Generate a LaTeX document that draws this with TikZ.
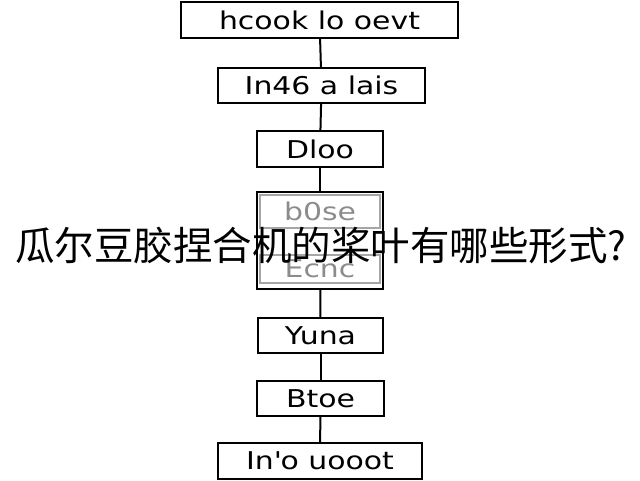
\documentclass[tikz,border=0pt]{standalone}
\usepackage{fontspec}
\setmainfont{DejaVu Sans}[FakeStretch=1.22]
\newfontfamily\cjk{Noto Sans CJK SC}
\begin{document}
\begin{tikzpicture}[x=1pt,y=-1pt,
  stepbox/.style={draw=black,line width=2pt,fill=white,inner sep=0pt,
    font=\fontsize{24.5}{28}\selectfont,text=black},
  subbox/.style={draw=black!35,line width=1.4pt,inner sep=0pt,
    font=\fontsize{24.5}{28}\selectfont,text=black!45},
  link/.style={draw=black,line width=2pt}]
\useasboundingbox (0,0) rectangle (640,480);
\fill[white] (0,0) rectangle (640,480);
\node[stepbox,minimum width=277pt,minimum height=36pt] (b1) at (319.5,20) {hcook lo oevt};
\node[stepbox,minimum width=207pt,minimum height=35pt] (b2) at (321.5,85.5) {In46 a lais};
\node[stepbox,minimum width=126pt,minimum height=36pt] (b3) at (320,149) {Dloo};
\node[stepbox,minimum width=126pt,minimum height=97pt] (b4) at (320,240.5) {};
\node[subbox,minimum width=120pt,minimum height=33pt] (b4a) at (320,211.5) {b0se};
\node[subbox,minimum width=120pt,minimum height=28pt] (b4b) at (320,269) {Ecnc};
\node[stepbox,minimum width=125pt,minimum height=35pt] (b6) at (320.5,335.5) {Yuna};
\node[stepbox,minimum width=127pt,minimum height=35pt] (b7) at (320.5,398.5) {Btoe};
\node[stepbox,minimum width=204pt,minimum height=36pt] (b8) at (320,461) {In\textquotesingle o uooot};
\draw[link] (b1) -- (b2);
\draw[link] (b2) -- (b3);
\draw[link] (b3) -- (b4);
\draw[link] (b4) -- (b6);
\draw[link] (b6) -- (b7);
\draw[link] (b7) -- (b8);
\node[font=\cjk\fontsize{39.5}{44}\selectfont,inner sep=0pt] (title) at (321,246) {瓜尔豆胶捏合机的桨叶有哪些形式?};
\end{tikzpicture}
\end{document}
